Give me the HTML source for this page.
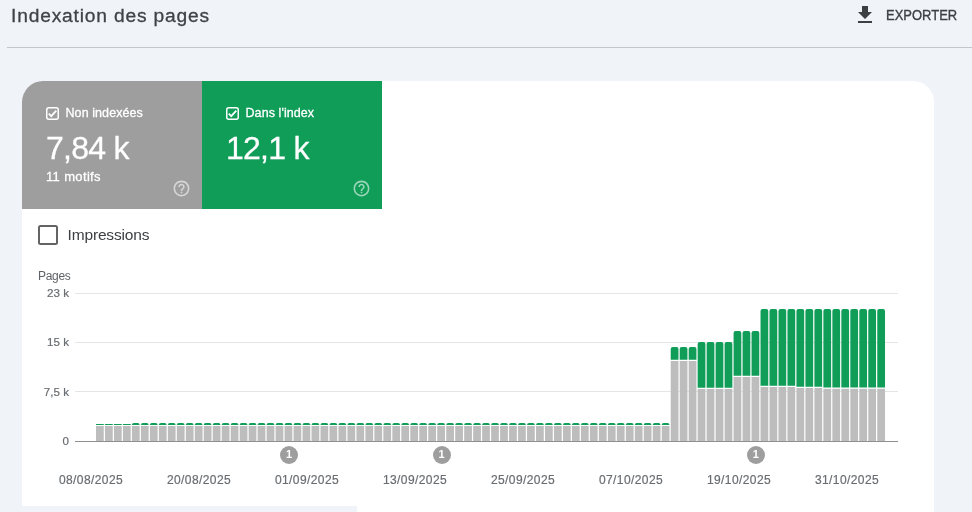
<!DOCTYPE html>
<html lang="fr">
<head>
<meta charset="utf-8">
<title>Indexation des pages</title>
<style>
html,body{margin:0;padding:0}
body{width:972px;height:512px;overflow:hidden;background:#f0f4f9;position:relative;font-family:"Liberation Sans",sans-serif;color:#3c4043}
.abs{position:absolute;white-space:nowrap;line-height:1}
.title{left:11px;top:6.2px;font-size:19.2px;letter-spacing:.83px;color:#3f4347;-webkit-text-stroke:.3px #3f4347}
.exp{left:885.5px;top:8.3px;font-size:14px;letter-spacing:0;transform:scaleX(.927);transform-origin:0 0;color:#3c4043;font-weight:400;-webkit-text-stroke:.35px #3c4043}
.hr{position:absolute;left:7px;top:47px;width:965px;height:1px;background:#c3c7cb}
.card{position:absolute;left:22px;top:81px;width:912px;height:440px;background:#fff;border-radius:21px 21px 0 0;overflow:hidden}
.patch{position:absolute;left:0;top:506px;width:357px;height:6px;background:#f0f4f9}
.box{position:absolute;top:0;width:180px;height:128px;color:#fff}
.box.g1{left:0;background:#9e9e9e}
.box.g2{left:180px;background:#0f9d58}
.cb{position:absolute;left:24px;top:26px;width:13px;height:13px}
.lbl{position:absolute;left:43.5px;top:25px;font-size:12.5px;line-height:14px;letter-spacing:.08px;white-space:nowrap;-webkit-text-stroke:.3px #fff}
.big{position:absolute;left:24px;top:49px;font-size:32px;line-height:36px;letter-spacing:-.75px;white-space:nowrap;-webkit-text-stroke:.3px #fff}
.sub{position:absolute;left:24px;top:88.5px;font-size:13px;line-height:14px;letter-spacing:.35px;white-space:nowrap;-webkit-text-stroke:.3px #fff}
.help{position:absolute;width:19px;height:19px}
.chk{position:absolute;left:38px;top:225px;width:16px;height:16px;border:2px solid #646464;border-radius:2.5px;background:#fff}
.imp{left:67.5px;top:226px;font-size:15.5px;letter-spacing:-.15px;color:#3c4043;line-height:17px}
.pages{left:38px;top:270px;font-size:12px;letter-spacing:-.3px;color:#5f6368;line-height:13px}
.yl{position:absolute;left:20px;width:49px;text-align:right;font-size:11.6px;line-height:14px;color:#696d71;white-space:nowrap;-webkit-text-stroke:.2px #696d71}
.dl{position:absolute;top:473px;width:80px;text-align:center;font-size:12px;letter-spacing:.4px;line-height:14px;color:#696d71;white-space:nowrap;-webkit-text-stroke:.2px #696d71}
.ann{position:absolute;top:446px;width:18px;height:18px;border-radius:50%;background:#9e9e9e;color:#fff;font-size:11px;font-weight:700;line-height:17px;text-align:center}
svg{position:absolute;left:0;top:0}
</style>
</head>
<body>
<div class="abs title">Indexation des pages</div>
<svg width="24" height="24" viewBox="0 0 24 24" style="left:853px;top:3px"><path fill="#3c4043" d="M19 9h-4V3H9v6H5l7 7 7-7zM5 18v2h14v-2H5z"/></svg>
<div class="abs exp">EXPORTER</div>
<div class="hr"></div>

<div class="card">
  <div class="box g1">
    <svg class="cb" viewBox="0 0 13 13" style="left:24px;top:26px"><rect x=".75" y=".75" width="11.5" height="11.5" rx="2" fill="none" stroke="#fff" stroke-width="1.5"/><path d="M2.7 6.7l2.5 2.5 5.1-5.5" fill="none" stroke="#fff" stroke-width="1.75"/></svg>
    <div class="lbl">Non indexées</div>
    <div class="big">7,84 k</div>
    <div class="sub">11 motifs</div>
    <svg class="help" viewBox="0 0 24 24" style="left:149.5px;top:97.5px"><path fill="#fff" fill-opacity=".58" d="M11 18h2v-2h-2v2zm1-16C6.48 2 2 6.48 2 12s4.48 10 10 10 10-4.480 10-10S17.520 2 12 2zm0 18c-4.410 0-8-3.590-8-8s3.590-8 8-8 8 3.590 8 8-3.590 8-8 8zm0-14c-2.210 0-4 1.790-4 4h2c0-1.100.9-2 2-2s2 .9 2 2c0 2-3 1.750-3 5h2c0-2.250 3-2.500 3-5 0-2.210-1.790-4-4-4z"/></svg>
  </div>
  <div class="box g2">
    <svg class="cb" viewBox="0 0 13 13" style="left:24px;top:26px"><rect x=".75" y=".75" width="11.5" height="11.5" rx="2" fill="none" stroke="#fff" stroke-width="1.5"/><path d="M2.7 6.7l2.5 2.5 5.1-5.5" fill="none" stroke="#fff" stroke-width="1.75"/></svg>
    <div class="lbl">Dans l'index</div>
    <div class="big">12,1 k</div>
    <svg class="help" viewBox="0 0 24 24" style="left:149.5px;top:97.5px"><path fill="#fff" fill-opacity=".58" d="M11 18h2v-2h-2v2zm1-16C6.48 2 2 6.48 2 12s4.48 10 10 10 10-4.480 10-10S17.520 2 12 2zm0 18c-4.410 0-8-3.590-8-8s3.590-8 8-8 8 3.590 8 8-3.590 8-8 8zm0-14c-2.210 0-4 1.790-4 4h2c0-1.100.9-2 2-2s2 .9 2 2c0 2-3 1.750-3 5h2c0-2.250 3-2.500 3-5 0-2.210-1.790-4-4-4z"/></svg>
  </div>
</div>
<div class="patch"></div>

<div class="chk"></div>
<div class="abs imp">Impressions</div>
<div class="abs pages">Pages</div>

<svg width="972" height="512" viewBox="0 0 972 512">
  <g fill="#e4e5e7">
    <rect x="75" y="293" width="823" height="1"/>
    <rect x="75" y="342" width="823" height="1"/>
    <rect x="75" y="391" width="823" height="1"/>
  </g>
  <g fill="#bdbdbd"><rect x="96.00" y="426" width="7.75" height="15"/><rect x="104.98" y="426" width="7.75" height="15"/><rect x="113.96" y="426" width="7.75" height="15"/><rect x="122.94" y="426" width="7.75" height="15"/><rect x="131.92" y="426" width="7.75" height="15"/><rect x="140.90" y="426" width="7.75" height="15"/><rect x="149.88" y="426" width="7.75" height="15"/><rect x="158.86" y="426" width="7.75" height="15"/><rect x="167.84" y="426" width="7.75" height="15"/><rect x="176.82" y="426" width="7.75" height="15"/><rect x="185.80" y="426" width="7.75" height="15"/><rect x="194.78" y="426" width="7.75" height="15"/><rect x="203.76" y="426" width="7.75" height="15"/><rect x="212.74" y="426" width="7.75" height="15"/><rect x="221.72" y="426" width="7.75" height="15"/><rect x="230.70" y="426" width="7.75" height="15"/><rect x="239.68" y="426" width="7.75" height="15"/><rect x="248.66" y="426" width="7.75" height="15"/><rect x="257.64" y="426" width="7.75" height="15"/><rect x="266.62" y="426" width="7.75" height="15"/><rect x="275.60" y="426" width="7.75" height="15"/><rect x="284.58" y="426" width="7.75" height="15"/><rect x="293.56" y="426" width="7.75" height="15"/><rect x="302.54" y="426" width="7.75" height="15"/><rect x="311.52" y="426" width="7.75" height="15"/><rect x="320.50" y="426" width="7.75" height="15"/><rect x="329.48" y="426" width="7.75" height="15"/><rect x="338.46" y="426" width="7.75" height="15"/><rect x="347.44" y="426" width="7.75" height="15"/><rect x="356.42" y="426" width="7.75" height="15"/><rect x="365.40" y="426" width="7.75" height="15"/><rect x="374.38" y="426" width="7.75" height="15"/><rect x="383.36" y="426" width="7.75" height="15"/><rect x="392.34" y="426" width="7.75" height="15"/><rect x="401.32" y="426" width="7.75" height="15"/><rect x="410.30" y="426" width="7.75" height="15"/><rect x="419.28" y="426" width="7.75" height="15"/><rect x="428.26" y="426" width="7.75" height="15"/><rect x="437.24" y="426" width="7.75" height="15"/><rect x="446.22" y="426" width="7.75" height="15"/><rect x="455.20" y="426" width="7.75" height="15"/><rect x="464.18" y="426" width="7.75" height="15"/><rect x="473.16" y="426" width="7.75" height="15"/><rect x="482.14" y="426" width="7.75" height="15"/><rect x="491.12" y="426" width="7.75" height="15"/><rect x="500.10" y="426" width="7.75" height="15"/><rect x="509.08" y="426" width="7.75" height="15"/><rect x="518.06" y="426" width="7.75" height="15"/><rect x="527.04" y="426" width="7.75" height="15"/><rect x="536.02" y="426" width="7.75" height="15"/><rect x="545.00" y="426" width="7.75" height="15"/><rect x="553.98" y="426" width="7.75" height="15"/><rect x="562.96" y="426" width="7.75" height="15"/><rect x="571.94" y="426" width="7.75" height="15"/><rect x="580.92" y="426" width="7.75" height="15"/><rect x="589.90" y="426" width="7.75" height="15"/><rect x="598.88" y="426" width="7.75" height="15"/><rect x="607.86" y="426" width="7.75" height="15"/><rect x="616.84" y="426" width="7.75" height="15"/><rect x="625.82" y="426" width="7.75" height="15"/><rect x="634.80" y="426" width="7.75" height="15"/><rect x="643.78" y="426" width="7.75" height="15"/><rect x="652.76" y="426" width="7.75" height="15"/><rect x="661.74" y="426" width="7.75" height="15"/><rect x="670.72" y="361" width="7.75" height="80"/><rect x="679.70" y="361" width="7.75" height="80"/><rect x="688.68" y="361" width="7.75" height="80"/><rect x="697.66" y="389" width="7.75" height="52"/><rect x="706.64" y="389" width="7.75" height="52"/><rect x="715.62" y="389" width="7.75" height="52"/><rect x="724.60" y="389" width="7.75" height="52"/><rect x="733.58" y="377" width="7.75" height="64"/><rect x="742.56" y="377" width="7.75" height="64"/><rect x="751.54" y="377" width="7.75" height="64"/><rect x="760.52" y="387" width="7.75" height="54"/><rect x="769.50" y="387" width="7.75" height="54"/><rect x="778.48" y="387" width="7.75" height="54"/><rect x="787.46" y="387" width="7.75" height="54"/><rect x="796.44" y="388" width="7.75" height="53"/><rect x="805.42" y="388" width="7.75" height="53"/><rect x="814.40" y="388" width="7.75" height="53"/><rect x="823.38" y="388.8" width="7.75" height="52.19999999999999"/><rect x="832.36" y="388.8" width="7.75" height="52.19999999999999"/><rect x="841.34" y="388.8" width="7.75" height="52.19999999999999"/><rect x="850.32" y="388.8" width="7.75" height="52.19999999999999"/><rect x="859.30" y="388.8" width="7.75" height="52.19999999999999"/><rect x="868.28" y="388.8" width="7.75" height="52.19999999999999"/><rect x="877.26" y="388.8" width="7.75" height="52.19999999999999"/></g>
  <g fill="#0f9d58"><rect x="96.00" y="424" width="7.75" height="1"/><rect x="104.98" y="424" width="7.75" height="1"/><rect x="113.96" y="424" width="7.75" height="1"/><rect x="122.94" y="424" width="7.75" height="1"/><path d="M131.92 425V425Q131.92 423 133.92 423H137.67Q139.67 423 139.67 425V425Z"/><path d="M140.90 425V425Q140.90 423 142.90 423H146.65Q148.65 423 148.65 425V425Z"/><path d="M149.88 425V425Q149.88 423 151.88 423H155.63Q157.63 423 157.63 425V425Z"/><path d="M158.86 425V425Q158.86 423 160.86 423H164.61Q166.61 423 166.61 425V425Z"/><path d="M167.84 425V425Q167.84 423 169.84 423H173.59Q175.59 423 175.59 425V425Z"/><path d="M176.82 425V425Q176.82 423 178.82 423H182.57Q184.57 423 184.57 425V425Z"/><path d="M185.80 425V425Q185.80 423 187.80 423H191.55Q193.55 423 193.55 425V425Z"/><path d="M194.78 425V425Q194.78 423 196.78 423H200.53Q202.53 423 202.53 425V425Z"/><path d="M203.76 425V425Q203.76 423 205.76 423H209.51Q211.51 423 211.51 425V425Z"/><path d="M212.74 425V425Q212.74 423 214.74 423H218.49Q220.49 423 220.49 425V425Z"/><path d="M221.72 425V425Q221.72 423 223.72 423H227.47Q229.47 423 229.47 425V425Z"/><path d="M230.70 425V425Q230.70 423 232.70 423H236.45Q238.45 423 238.45 425V425Z"/><path d="M239.68 425V425Q239.68 423 241.68 423H245.43Q247.43 423 247.43 425V425Z"/><path d="M248.66 425V425Q248.66 423 250.66 423H254.41Q256.41 423 256.41 425V425Z"/><path d="M257.64 425V425Q257.64 423 259.64 423H263.39Q265.39 423 265.39 425V425Z"/><path d="M266.62 425V425Q266.62 423 268.62 423H272.37Q274.37 423 274.37 425V425Z"/><path d="M275.60 425V425Q275.60 423 277.60 423H281.35Q283.35 423 283.35 425V425Z"/><path d="M284.58 425V425Q284.58 423 286.58 423H290.33Q292.33 423 292.33 425V425Z"/><path d="M293.56 425V425Q293.56 423 295.56 423H299.31Q301.31 423 301.31 425V425Z"/><path d="M302.54 425V425Q302.54 423 304.54 423H308.29Q310.29 423 310.29 425V425Z"/><path d="M311.52 425V425Q311.52 423 313.52 423H317.27Q319.27 423 319.27 425V425Z"/><path d="M320.50 425V425Q320.50 423 322.50 423H326.25Q328.25 423 328.25 425V425Z"/><path d="M329.48 425V425Q329.48 423 331.48 423H335.23Q337.23 423 337.23 425V425Z"/><path d="M338.46 425V425Q338.46 423 340.46 423H344.21Q346.21 423 346.21 425V425Z"/><path d="M347.44 425V425Q347.44 423 349.44 423H353.19Q355.19 423 355.19 425V425Z"/><path d="M356.42 425V425Q356.42 423 358.42 423H362.17Q364.17 423 364.17 425V425Z"/><path d="M365.40 425V425Q365.40 423 367.40 423H371.15Q373.15 423 373.15 425V425Z"/><path d="M374.38 425V425Q374.38 423 376.38 423H380.13Q382.13 423 382.13 425V425Z"/><path d="M383.36 425V425Q383.36 423 385.36 423H389.11Q391.11 423 391.11 425V425Z"/><path d="M392.34 425V425Q392.34 423 394.34 423H398.09Q400.09 423 400.09 425V425Z"/><path d="M401.32 425V425Q401.32 423 403.32 423H407.07Q409.07 423 409.07 425V425Z"/><path d="M410.30 425V425Q410.30 423 412.30 423H416.05Q418.05 423 418.05 425V425Z"/><path d="M419.28 425V425Q419.28 423 421.28 423H425.03Q427.03 423 427.03 425V425Z"/><path d="M428.26 425V425Q428.26 423 430.26 423H434.01Q436.01 423 436.01 425V425Z"/><path d="M437.24 425V425Q437.24 423 439.24 423H442.99Q444.99 423 444.99 425V425Z"/><path d="M446.22 425V425Q446.22 423 448.22 423H451.97Q453.97 423 453.97 425V425Z"/><path d="M455.20 425V425Q455.20 423 457.20 423H460.95Q462.95 423 462.95 425V425Z"/><path d="M464.18 425V425Q464.18 423 466.18 423H469.93Q471.93 423 471.93 425V425Z"/><path d="M473.16 425V425Q473.16 423 475.16 423H478.91Q480.91 423 480.91 425V425Z"/><path d="M482.14 425V425Q482.14 423 484.14 423H487.89Q489.89 423 489.89 425V425Z"/><path d="M491.12 425V425Q491.12 423 493.12 423H496.87Q498.87 423 498.87 425V425Z"/><path d="M500.10 425V425Q500.10 423 502.10 423H505.85Q507.85 423 507.85 425V425Z"/><path d="M509.08 425V425Q509.08 423 511.08 423H514.83Q516.83 423 516.83 425V425Z"/><path d="M518.06 425V425Q518.06 423 520.06 423H523.81Q525.81 423 525.81 425V425Z"/><path d="M527.04 425V425Q527.04 423 529.04 423H532.79Q534.79 423 534.79 425V425Z"/><path d="M536.02 425V425Q536.02 423 538.02 423H541.77Q543.77 423 543.77 425V425Z"/><path d="M545.00 425V425Q545.00 423 547.00 423H550.75Q552.75 423 552.75 425V425Z"/><path d="M553.98 425V425Q553.98 423 555.98 423H559.73Q561.73 423 561.73 425V425Z"/><path d="M562.96 425V425Q562.96 423 564.96 423H568.71Q570.71 423 570.71 425V425Z"/><path d="M571.94 425V425Q571.94 423 573.94 423H577.69Q579.69 423 579.69 425V425Z"/><path d="M580.92 425V425Q580.92 423 582.92 423H586.67Q588.67 423 588.67 425V425Z"/><path d="M589.90 425V425Q589.90 423 591.90 423H595.65Q597.65 423 597.65 425V425Z"/><path d="M598.88 425V425Q598.88 423 600.88 423H604.63Q606.63 423 606.63 425V425Z"/><path d="M607.86 425V425Q607.86 423 609.86 423H613.61Q615.61 423 615.61 425V425Z"/><path d="M616.84 425V425Q616.84 423 618.84 423H622.59Q624.59 423 624.59 425V425Z"/><path d="M625.82 425V425Q625.82 423 627.82 423H631.57Q633.57 423 633.57 425V425Z"/><path d="M634.80 425V425Q634.80 423 636.80 423H640.55Q642.55 423 642.55 425V425Z"/><path d="M643.78 425V425Q643.78 423 645.78 423H649.53Q651.53 423 651.53 425V425Z"/><path d="M652.76 425V425Q652.76 423 654.76 423H658.51Q660.51 423 660.51 425V425Z"/><path d="M661.74 425V425Q661.74 423 663.74 423H667.49Q669.49 423 669.49 425V425Z"/><path d="M670.72 359.7V349Q670.72 347 672.72 347H676.47Q678.47 347 678.47 349V359.7Z"/><path d="M679.70 359.7V349Q679.70 347 681.70 347H685.45Q687.45 347 687.45 349V359.7Z"/><path d="M688.68 359.7V349Q688.68 347 690.68 347H694.43Q696.43 347 696.43 349V359.7Z"/><path d="M697.66 387.7V344Q697.66 342 699.66 342H703.41Q705.41 342 705.41 344V387.7Z"/><path d="M706.64 387.7V344Q706.64 342 708.64 342H712.39Q714.39 342 714.39 344V387.7Z"/><path d="M715.62 387.7V344Q715.62 342 717.62 342H721.37Q723.37 342 723.37 344V387.7Z"/><path d="M724.60 387.7V344Q724.60 342 726.60 342H730.35Q732.35 342 732.35 344V387.7Z"/><path d="M733.58 375.7V333Q733.58 331 735.58 331H739.33Q741.33 331 741.33 333V375.7Z"/><path d="M742.56 375.7V333Q742.56 331 744.56 331H748.31Q750.31 331 750.31 333V375.7Z"/><path d="M751.54 375.7V333Q751.54 331 753.54 331H757.29Q759.29 331 759.29 333V375.7Z"/><path d="M760.52 385.7V311Q760.52 309 762.52 309H766.27Q768.27 309 768.27 311V385.7Z"/><path d="M769.50 385.7V311Q769.50 309 771.50 309H775.25Q777.25 309 777.25 311V385.7Z"/><path d="M778.48 385.7V311Q778.48 309 780.48 309H784.23Q786.23 309 786.23 311V385.7Z"/><path d="M787.46 385.7V311Q787.46 309 789.46 309H793.21Q795.21 309 795.21 311V385.7Z"/><path d="M796.44 386.7V311Q796.44 309 798.44 309H802.19Q804.19 309 804.19 311V386.7Z"/><path d="M805.42 386.7V311Q805.42 309 807.42 309H811.17Q813.17 309 813.17 311V386.7Z"/><path d="M814.40 386.7V311Q814.40 309 816.40 309H820.15Q822.15 309 822.15 311V386.7Z"/><path d="M823.38 387.4V311Q823.38 309 825.38 309H829.13Q831.13 309 831.13 311V387.4Z"/><path d="M832.36 387.4V311Q832.36 309 834.36 309H838.11Q840.11 309 840.11 311V387.4Z"/><path d="M841.34 387.4V311Q841.34 309 843.34 309H847.09Q849.09 309 849.09 311V387.4Z"/><path d="M850.32 387.4V311Q850.32 309 852.32 309H856.07Q858.07 309 858.07 311V387.4Z"/><path d="M859.30 387.4V311Q859.30 309 861.30 309H865.05Q867.05 309 867.05 311V387.4Z"/><path d="M868.28 387.4V311Q868.28 309 870.28 309H874.03Q876.03 309 876.03 311V387.4Z"/><path d="M877.26 387.4V311Q877.26 309 879.26 309H883.01Q885.01 309 885.01 311V387.4Z"/></g>
  <rect x="75" y="441" width="823" height="1" fill="#8f8f8f"/>
</svg>
<div class="yl" style="top:286px">23 k</div><div class="yl" style="top:335px">15 k</div><div class="yl" style="top:385px">7,5 k</div><div class="yl" style="top:434px">0</div>
<div class="ann" style="left:280px">1</div><div class="ann" style="left:432.6px">1</div><div class="ann" style="left:746.8px">1</div>
<div class="dl" style="left:51px">08/08/2025</div><div class="dl" style="left:159px">20/08/2025</div><div class="dl" style="left:267px">01/09/2025</div><div class="dl" style="left:375px">13/09/2025</div><div class="dl" style="left:483px">25/09/2025</div><div class="dl" style="left:591px">07/10/2025</div><div class="dl" style="left:699px">19/10/2025</div><div class="dl" style="left:807px">31/10/2025</div>
</body>
</html>
